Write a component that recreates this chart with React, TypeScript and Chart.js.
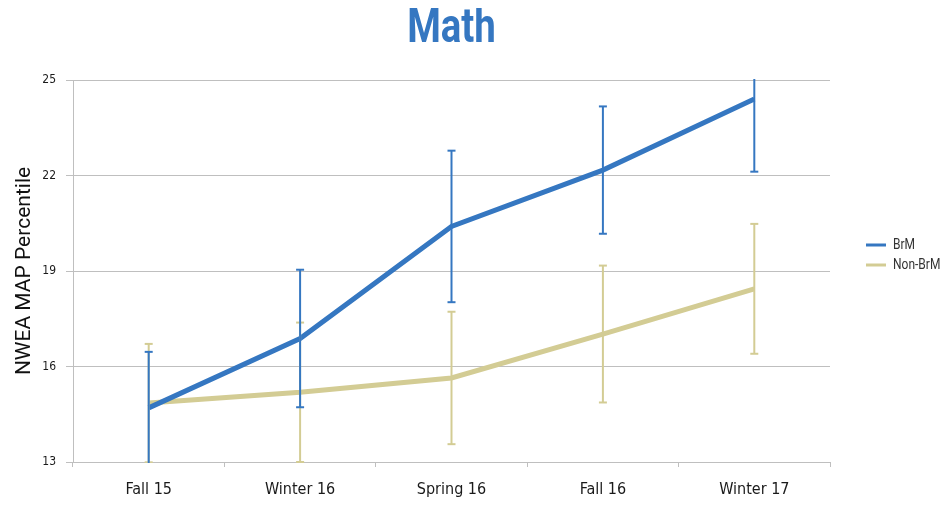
import React, { useEffect, useRef } from 'react';
import { Chart, registerables } from 'chart.js';

Chart.register(...registerables);

const categories = ['Fall 15', 'Winter 16', 'Spring 16', 'Fall 16', 'Winter 17'];
const brmValues = [14.7, 16.88, 20.4, 22.17, 24.4];
const brmErrors = [1.76, 2.16, 2.38, 2.0, 2.28];
const nonBrmValues = [14.85, 15.19, 15.64, 17.02, 18.44];
const nonBrmErrors = [1.86, 2.19, 2.08, 2.15, 2.04];
const yTicks = [13, 16, 19, 22, 25];

const BLUE = '#3577C1';
const KHAKI = '#D3CC94';
const GRID = '#BFBFBF';
const COND = "'Liberation Sans Narrow', 'DejaVu Sans Condensed', 'Roboto Condensed', Roboto, sans-serif";

const errorBarPlugin = {
  id: 'errorBars',
  afterDatasetsDraw(chart: any) {
    const { ctx, chartArea, scales } = chart;
    const y = scales.y;
    ctx.save();
    ctx.beginPath();
    ctx.rect(chartArea.left, chartArea.top - 1, chartArea.right - chartArea.left, chartArea.bottom - chartArea.top + 2);
    ctx.clip();
    [1, 0].forEach((di) => {
      const ds = chart.data.datasets[di];
      const meta = chart.getDatasetMeta(di);
      const errs: number[] = ds.errors;
      ctx.strokeStyle = ds.borderColor;
      ctx.lineWidth = 2;
      meta.data.forEach((pt: any, i: number) => {
        const v = ds.data[i];
        const yh = y.getPixelForValue(v + errs[i]);
        const yl = y.getPixelForValue(v - errs[i]);
        const x = pt.x;
        ctx.beginPath();
        ctx.moveTo(x, yh);
        ctx.lineTo(x, yl);
        ctx.stroke();
        const cw = 4;
        [yh, yl].forEach((yy) => {
          if (yy >= chartArea.top - 1 && yy <= chartArea.bottom + 1) {
            ctx.beginPath();
            ctx.moveTo(x - cw, yy);
            ctx.lineTo(x + cw, yy);
            ctx.stroke();
          }
        });
      });
    });
    ctx.restore();
  },
};

const titleLegendPlugin = {
  id: 'titleLegend',
  afterDraw(chart: any) {
    const { ctx, chartArea } = chart;
    ctx.save();
    ctx.fillStyle = BLUE;
    ctx.font = `bold 48px Roboto, sans-serif`;
    ctx.textAlign = 'center';
    ctx.textBaseline = 'middle';
    const cx = (chartArea.left + chartArea.right) / 2;
    ctx.translate(cx, 22);
    ctx.scale(0.8, 1);
    ctx.fillText('Math', 0, 0);
    ctx.restore();

    // legend
    ctx.save();
    const items = [
      { label: 'BrM', color: BLUE },
      { label: 'Non-BrM', color: KHAKI },
    ];
    ctx.font = `15px Roboto, sans-serif`;
    ctx.textAlign = 'left';
    ctx.textBaseline = 'middle';
    items.forEach((it, i) => {
      const yy = 237 + i * 20;
      ctx.strokeStyle = it.color;
      ctx.lineWidth = 3;
      ctx.beginPath();
      ctx.moveTo(858, yy);
      ctx.lineTo(878, yy);
      ctx.stroke();
      ctx.fillStyle = '#333';
      ctx.save();
      ctx.translate(885, yy);
      ctx.scale(0.8, 1);
      ctx.fillText(it.label, 0, 0);
      ctx.restore();
    });
    ctx.restore();
  },
};

export default function App() {
  const ref = useRef<HTMLCanvasElement | null>(null);
  useEffect(() => {
    if (!ref.current) return;
    const chart = new Chart(ref.current, {
      type: 'line',
      data: {
        labels: categories,
        datasets: [
          {
            label: 'BrM',
            data: brmValues,
            errors: brmErrors,
            borderColor: BLUE,
            backgroundColor: BLUE,
            borderWidth: 5,
            pointRadius: 0,
            tension: 0,
            order: 0,
          } as any,
          {
            label: 'Non-BrM',
            data: nonBrmValues,
            errors: nonBrmErrors,
            borderColor: KHAKI,
            backgroundColor: KHAKI,
            borderWidth: 5,
            pointRadius: 0,
            tension: 0,
            order: 1,
          } as any,
        ],
      },
      options: {
        animation: false,
        responsive: false,
        devicePixelRatio: 1,
        layout: { padding: { top: 72, right: 113, bottom: 0, left: 0 } },
        plugins: {
          legend: { display: false },
          title: { display: false },
          tooltip: { enabled: false },
        },
        scales: {
          x: {
            offset: true,
            afterFit: (s: any) => { s.height = 35; },
            grid: {
              display: true,
              drawOnChartArea: false,
              drawTicks: true,
              tickLength: 5,
              offset: true,
              color: GRID,
            },
            border: { display: true, color: GRID },
            ticks: { color: '#1a1a1a', font: { family: COND, size: 16 }, padding: 13 },
          },
          y: {
            min: 13,
            max: 25,
            afterFit: (s: any) => { s.width = 65; },
            afterBuildTicks: (s: any) => { s.ticks = yTicks.map((v) => ({ value: v })); },
            grid: { color: GRID, tickLength: 7, lineWidth: 1 },
            border: { display: true, color: GRID },
            ticks: { color: '#1a1a1a', font: { family: COND, size: 12 }, padding: 10 },
            title: {
              display: true,
              text: 'NWEA MAP Percentile',
              color: '#111',
              font: { family: 'Roboto, sans-serif', size: 21 },
              padding: { top: 4, bottom: 0 },
            },
          },
        },
      },
      plugins: [errorBarPlugin, titleLegendPlugin],
    } as any);
    return () => chart.destroy();
  }, []);
  return (
    <div style={{ width: 935, height: 489 }}>
      <canvas ref={ref} width={935} height={489} style={{ width: 935, height: 489, display: 'block' }} />
    </div>
  );
}
